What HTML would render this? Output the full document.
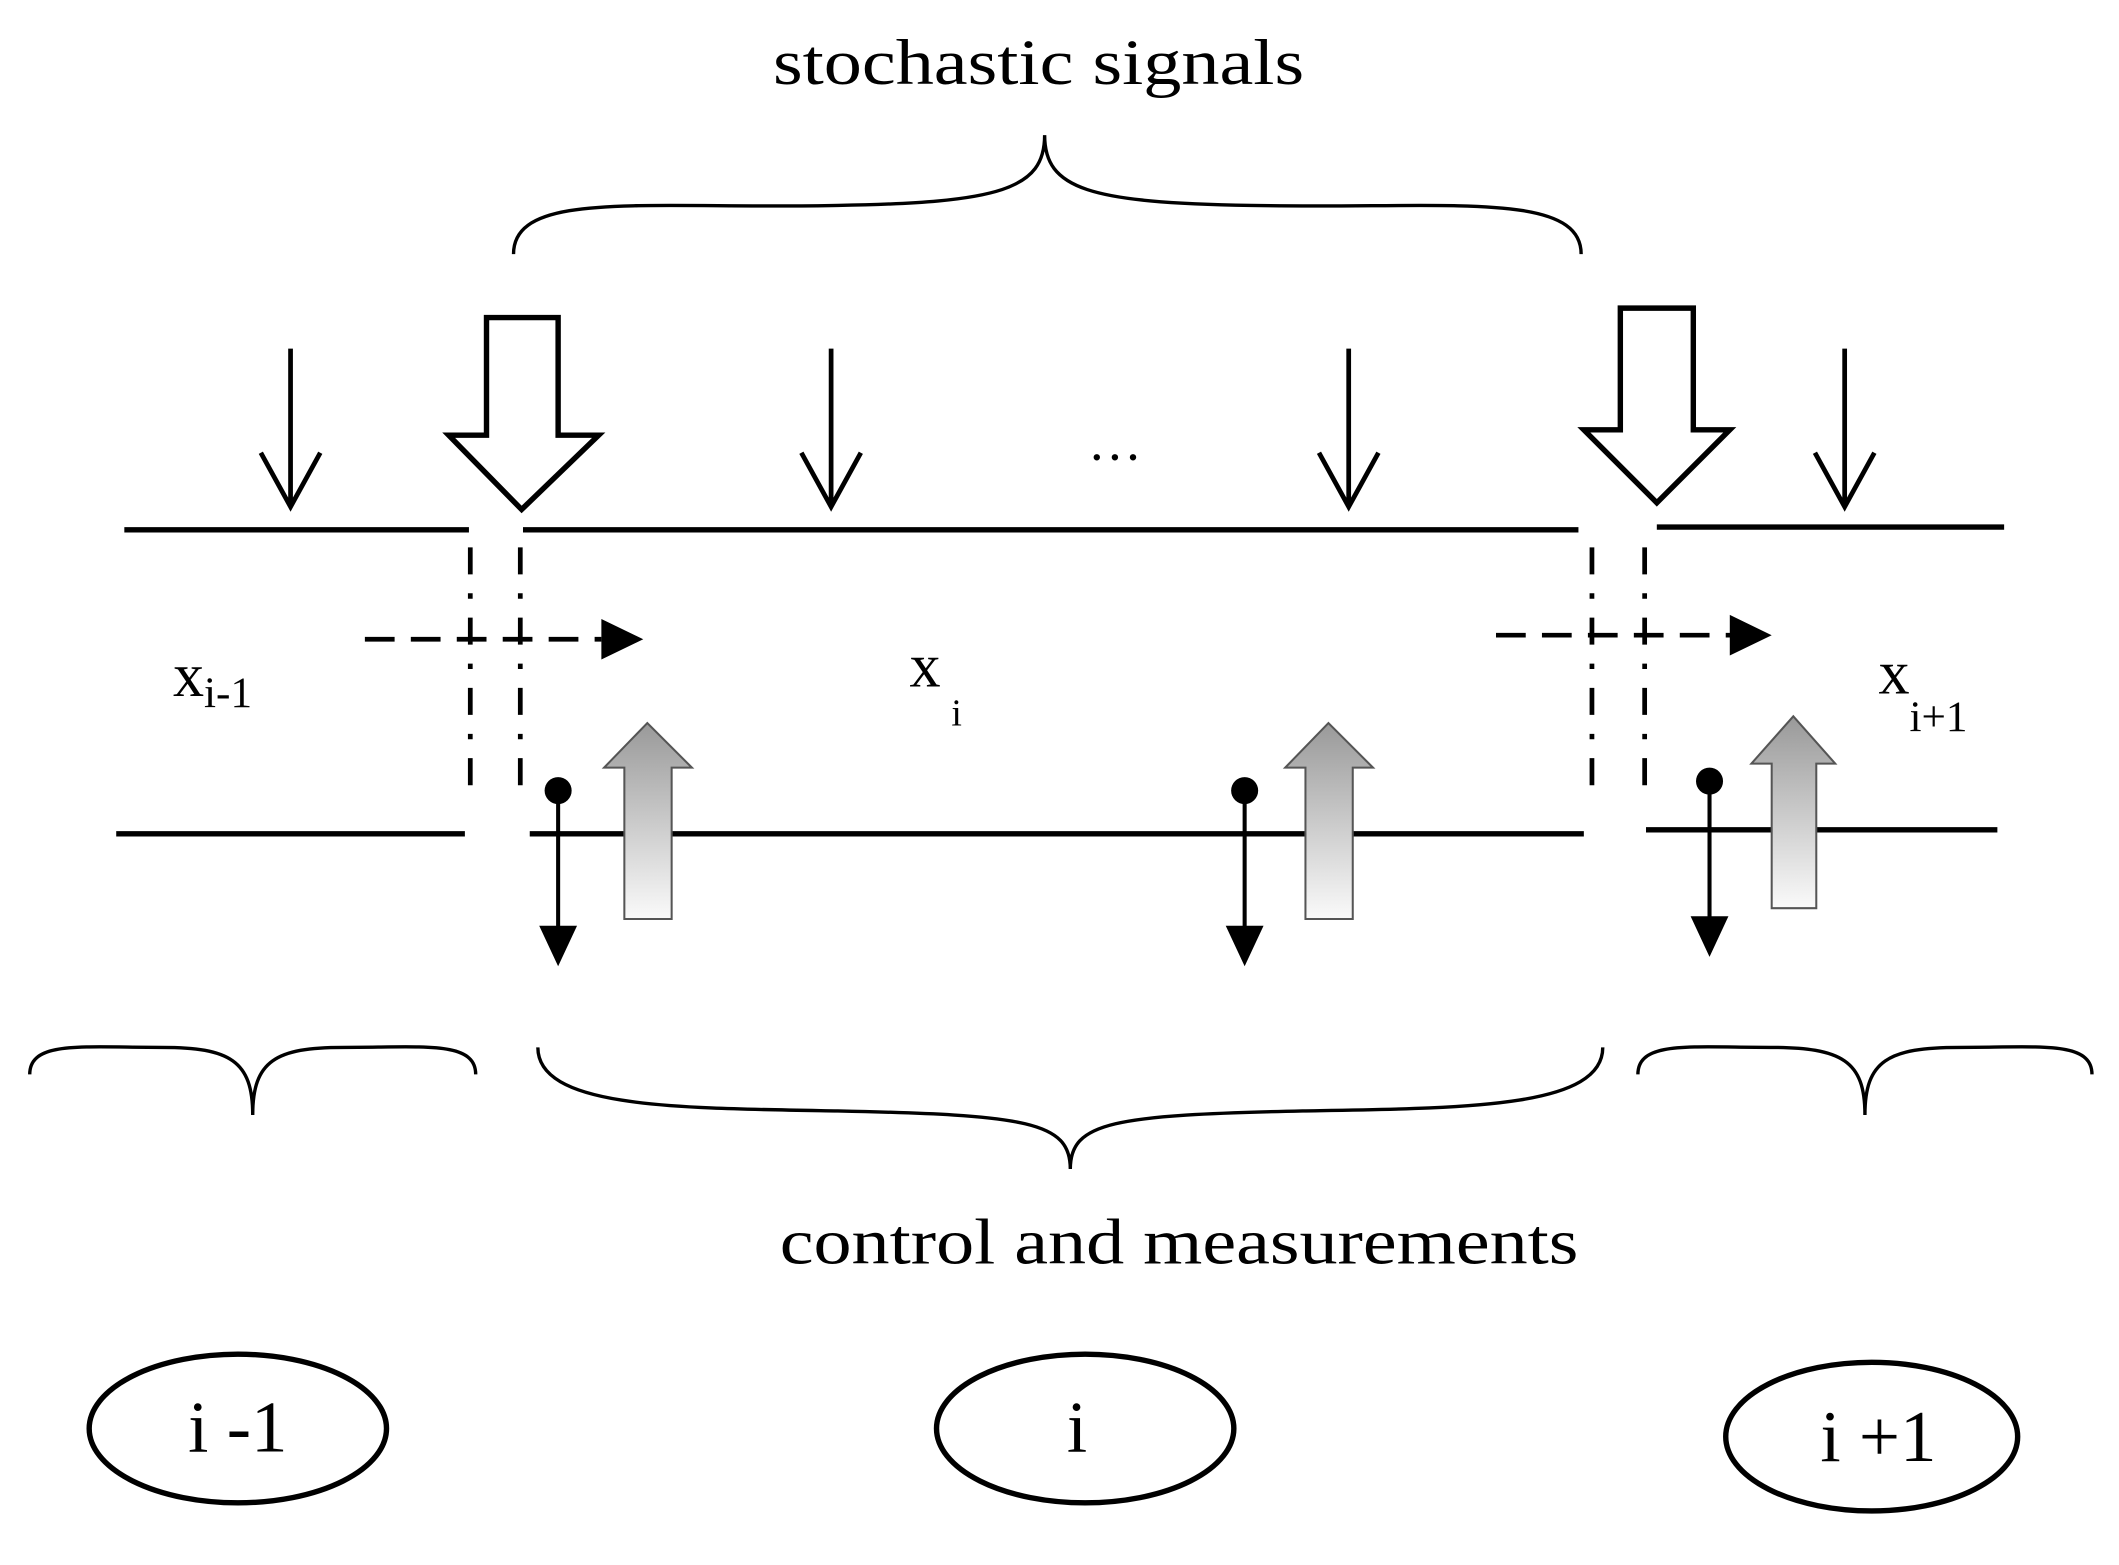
<!DOCTYPE html>
<html><head><style>html,body{margin:0;padding:0;background:#fff}svg{display:block}</style></head>
<body>
<svg width="2119" height="1565" viewBox="0 0 1568 1158" preserveAspectRatio="none" xmlns="http://www.w3.org/2000/svg" font-family="Liberation Serif, serif">
<defs>
<linearGradient id="g" x1="0" y1="0" x2="0" y2="1"><stop offset="0" stop-color="#999"/><stop offset="1" stop-color="#fafafa"/></linearGradient>
</defs>
<rect width="1568" height="1158" fill="#fff"/>
<text x="572" y="62" font-size="48" textLength="393" lengthAdjust="spacingAndGlyphs">stochastic signals</text>
<g fill="none" stroke="#000" stroke-width="2.5">
<path d="M380 188 C380 140 480 155 620 152 C740 150 773 140 773 100 C773 140 806 150 926 152 C1066 155 1170 140 1170 188"/>
<path d="M22 795 C22 770 60 775 120 775 C170 775 187 785 187 825 C187 785 204 775 254 775 C314 775 352 770 352 795"/>
<path d="M398 775 C398 820 500 820 620 822 C760 825 792 830 792 865 C792 830 824 825 964 822 C1084 820 1186 820 1186 775"/>
<path d="M1212 795 C1212 770 1250 775 1310 775 C1363 775 1380 785 1380 825 C1380 785 1397 775 1450 775 C1510 775 1548 770 1548 795"/>
</g>
<g stroke="#000" stroke-width="3.5" fill="none">
<path d="M215 258V375M193 335L215 375L237 335"/>
<path d="M615 258V375M593 335L615 375L637 335"/>
<path d="M998 258V375M976 335L998 375L1020 335"/>
<path d="M1365 258V375M1343 335L1365 375L1387 335"/>
</g>
<g stroke="#000" stroke-width="4" fill="#fff">
<path d="M360 235H413V322H443L386 377L332 322H360Z"/>
<path d="M1199 228H1253V318H1280L1226 372L1172 318H1199Z"/>
</g>
<text x="825" y="340" font-size="40" text-anchor="middle">…</text>
<g stroke="#000" stroke-width="4">
<path d="M92 392H347M387 392H1168M1226 390H1483M86 617H344M392 617H1172M1218 614H1478"/>
</g>
<g stroke="#000" stroke-width="3.5" stroke-dasharray="20 14 4 14">
<path d="M348 405V588M385 405V588M1178 405V588M1217 405V588"/>
</g>
<g stroke="#000" stroke-width="3.5" stroke-dasharray="22 12">
<path d="M270 473H445M1107 470H1282"/>
</g>
<path d="M445 458L476 473L445 488Z M1280 455L1311 470L1280 485Z" fill="#000"/>
<g font-size="46">
<text x="128" y="515">x<tspan font-size="32" dy="8">i-1</tspan></text>
<text x="673" y="508">x</text><text x="704" y="537" font-size="28">i</text>
<text x="1390" y="513">x<tspan font-size="32" dy="28">i+1</tspan></text>
</g>
<g stroke="#000" stroke-width="3">
<path d="M413 585V690M921 585V690M1265 578V683"/>
</g>
<g fill="#000">
<circle cx="413" cy="585" r="10"/><circle cx="921" cy="585" r="10"/><circle cx="1265" cy="578" r="10"/>
<path d="M399 685H427L413 715Z M907 685H935L921 715Z M1251 678H1279L1265 708Z"/>
</g>
<g stroke="#555" stroke-width="1.5" fill="url(#g)">
<path d="M462 680V568H447L479 535L512 568H497V680Z"/>
<path d="M966 680V568H951L983 535L1016 568H1001V680Z"/>
<path d="M1311 672V565H1296L1327 530L1358 565H1344V672Z"/>
</g>
<text x="577" y="935" font-size="48" textLength="591" lengthAdjust="spacingAndGlyphs">control and measurements</text>
<g fill="none" stroke="#000" stroke-width="4">
<ellipse cx="176" cy="1057" rx="110" ry="55"/>
<ellipse cx="803" cy="1057" rx="110" ry="55"/>
<ellipse cx="1385" cy="1063" rx="108" ry="55"/>
</g>
<g font-size="54" text-anchor="middle">
<text x="176" y="1074">i -1</text>
<text x="797" y="1074">i</text>
<text x="1390" y="1081">i +1</text>
</g>
</svg>
</body></html>
